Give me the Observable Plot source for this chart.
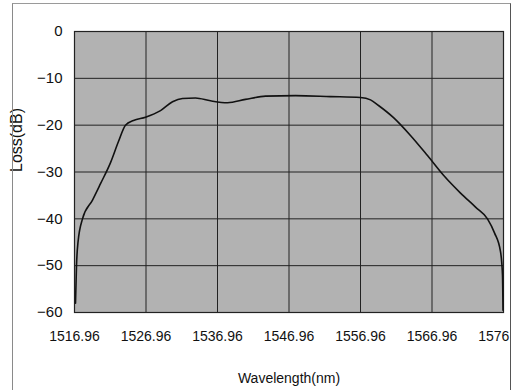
<!DOCTYPE html>
<html>
<head>
<meta charset="utf-8">
<script src="https://cdn.jsdelivr.net/npm/d3@7"></script>
<script src="https://cdn.jsdelivr.net/npm/@observablehq/plot@0.6"></script>
<style>
  html, body { margin: 0; padding: 0; background: #fff; }
  #wrap { position: absolute; left: 0; top: 0; width: 522px; height: 390px; }
  #clip { position: absolute; left: 0; top: 0; width: 510px; height: 390px; overflow: hidden; }
  #frame { position: absolute; left: 12px; top: 3px; width: 497px; height: 390px;
           border-top: 1px solid #9a9a9a; border-left: 1px solid #8a8a8a; border-right: 1px solid #555; }
  #clip svg { max-width: none !important; width: 522px; height: 390px; }
</style>
</head>
<body>
<div id="wrap"><div id="clip"></div><div id="frame"></div></div>
<script>
// Wavelength (nm) and loss (dB)
const wavelength = [1517.10, 1517.24, 1517.45, 1518.08, 1519.48, 1520.60, 1522.00, 1523.11, 1524.09, 1525.21,
  1526.89, 1528.99, 1530.67, 1532.06, 1533.88, 1535.98, 1538.36, 1540.87, 1543.67, 1547.87,
  1552.76, 1556.96, 1558.36, 1559.48, 1561.58, 1563.95, 1566.33, 1568.57, 1570.95, 1573.05,
  1574.72, 1575.70, 1576.54, 1576.82, 1576.89];
const loss = [-58, -50, -45, -40, -36, -32.5, -28, -23.5, -20, -19,
  -18.3, -16.9, -15, -14.3, -14.2, -14.8, -15.2, -14.5, -13.8, -13.7,
  -13.9, -14.1, -14.6, -15.8, -18.4, -22.2, -26.5, -30.7, -34.5, -37.5,
  -40, -43, -47, -52, -59.5];
const xTicks = [1516.96, 1526.96, 1536.96, 1546.96, 1556.96, 1566.96, 1576.96];
const yTicks = [0, -10, -20, -30, -40, -50, -60];

const data = wavelength.map((w, i) => ({w, l: loss[i]}));
const yFmt = d => d === 0 ? "0" : "\u2212" + Math.abs(d);

const chart = Plot.plot({
  width: 522,
  height: 390,
  marginLeft: 74,
  marginRight: 19,
  marginTop: 31,
  marginBottom: 78,
  style: {fontSize: "14px", fontFamily: "'Liberation Sans', Arial, sans-serif", color: "#111", background: "transparent", maxWidth: "none"},
  x: {domain: [1516.96, 1576.96], label: null},
  y: {domain: [-60, 0], label: null},
  marks: [
    Plot.frame({fill: "#b2b2b2", stroke: null}),
    Plot.gridX(xTicks, {stroke: "#222", strokeOpacity: 1, strokeWidth: 1}),
    Plot.gridY(yTicks, {stroke: "#222", strokeOpacity: 1, strokeWidth: 1}),
    Plot.frame({stroke: "#222", strokeWidth: 1.2}),
    Plot.line(data, {x: "w", y: "l", stroke: "#111", strokeWidth: 1.6, curve: "monotone-x"}),
    Plot.axisX({ticks: xTicks, tickFormat: d => d.toFixed(2), tickSize: 0, tickPadding: 19, label: null, fontSize: 14, style: "letter-spacing:-0.4px"}),
    Plot.axisY({ticks: yTicks, tickFormat: yFmt, tickSize: 0, tickPadding: 12, label: null, fontSize: 15}),
    Plot.text(["Wavelength(nm)"], {frameAnchor: "bottom", dy: 70, fontSize: 14, fill: "#111"}),
    Plot.text(["Loss(dB)"], {frameAnchor: "left", dx: -58, rotate: -90, fontSize: 16, fill: "#111"})
  ]
});
document.getElementById("clip").appendChild(chart);
</script>
</body>
</html>
